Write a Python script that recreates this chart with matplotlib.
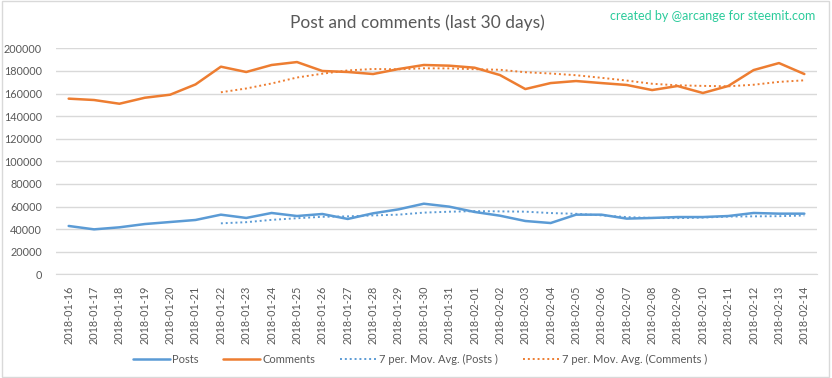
import matplotlib
matplotlib.use('Agg')
import matplotlib.pyplot as plt
import pandas as pd

plt.rcParams['font.family'] = ['Lato', 'DejaVu Sans']

dates = ['2018-01-16', '2018-01-17', '2018-01-18', '2018-01-19', '2018-01-20',
         '2018-01-21', '2018-01-22', '2018-01-23', '2018-01-24', '2018-01-25',
         '2018-01-26', '2018-01-27', '2018-01-28', '2018-01-29', '2018-01-30',
         '2018-01-31', '2018-02-01', '2018-02-02', '2018-02-03', '2018-02-04',
         '2018-02-05', '2018-02-06', '2018-02-07', '2018-02-08', '2018-02-09',
         '2018-02-10', '2018-02-11', '2018-02-12', '2018-02-13', '2018-02-14']

posts = [42800, 39800, 41600, 44500, 46300, 48100, 52800, 49900, 54300, 51600,
         53400, 49000, 54000, 57500, 62500, 59900, 55200, 51900, 47200, 45400,
         52800, 52800, 49300, 49900, 50700, 50700, 51600, 54300, 53700, 53700]

comments = [155500, 154300, 151000, 156300, 159000, 168100, 183800, 179100, 185300, 187900,
            180000, 179100, 177300, 181700, 185300, 184700, 182900, 176400, 164000, 169300,
            171100, 169300, 167600, 163100, 166700, 160500, 166700, 180800, 187000, 177300]

# 7 period moving average, as the Excel trendline
posts_ma = pd.Series(posts).rolling(7).mean()
comments_ma = pd.Series(comments).rolling(7).mean()

blue = '#5B9BD5'
orange = '#ED7D31'
grey = '#595959'

fig = plt.figure(figsize=(8.32, 3.78), dpi=100)
ax = fig.add_axes([0.0673, 0.2743, 0.9147, 0.5977])

x = list(range(len(dates)))
ax.plot(x, posts, color=blue, lw=1.8, label='Posts', solid_capstyle='round')
ax.plot(x, comments, color=orange, lw=1.8, label='Comments', solid_capstyle='round')
ax.plot(x, posts_ma, color=blue, lw=1.4, linestyle=(0, (1, 1.5)), label='7 per. Mov. Avg. (Posts )')
ax.plot(x, comments_ma, color=orange, lw=1.4, linestyle=(0, (1, 1.5)), label='7 per. Mov. Avg. (Comments )')

ax.set_xlim(-0.5, len(dates) - 0.5)
ax.set_ylim(0, 200000)
ax.set_yticks(range(0, 200001, 20000))
ax.set_yticklabels([str(v) for v in range(0, 200001, 20000)])
ax.set_xticks(x)
ax.set_xticklabels(dates, rotation=90)
ax.tick_params(axis='both', length=0, labelsize=7.8, colors=grey)
ax.tick_params(axis='y', pad=10)
ax.tick_params(axis='x', pad=8)
ax.grid(axis='y', color='#D9D9D9', lw=1)
ax.set_axisbelow(True)
for s in ['top', 'right', 'left']:
    ax.spines[s].set_visible(False)
ax.spines['bottom'].set_color('#D9D9D9')

fig.text(0.502, 0.94, 'Post and comments (last 30 days)', ha='center', va='center',
         fontsize=12.5, color=grey)
fig.text(0.98, 0.958, 'created by @arcange for steemit.com', ha='right', va='center',
         fontsize=9, color='#2BCB9B')

fig.legend(loc='center', bbox_to_anchor=(0.505, 0.05), ncol=4, frameon=False,
           fontsize=8, handlelength=3.3, columnspacing=2.2, handletextpad=0.25,
           labelcolor=grey)

fig.patches.append(plt.Rectangle((0.002, 0.003), 0.994, 0.994, transform=fig.transFigure,
                                 fill=False, edgecolor='#D9D9D9', lw=1))

fig.savefig('out.png', dpi=100)
